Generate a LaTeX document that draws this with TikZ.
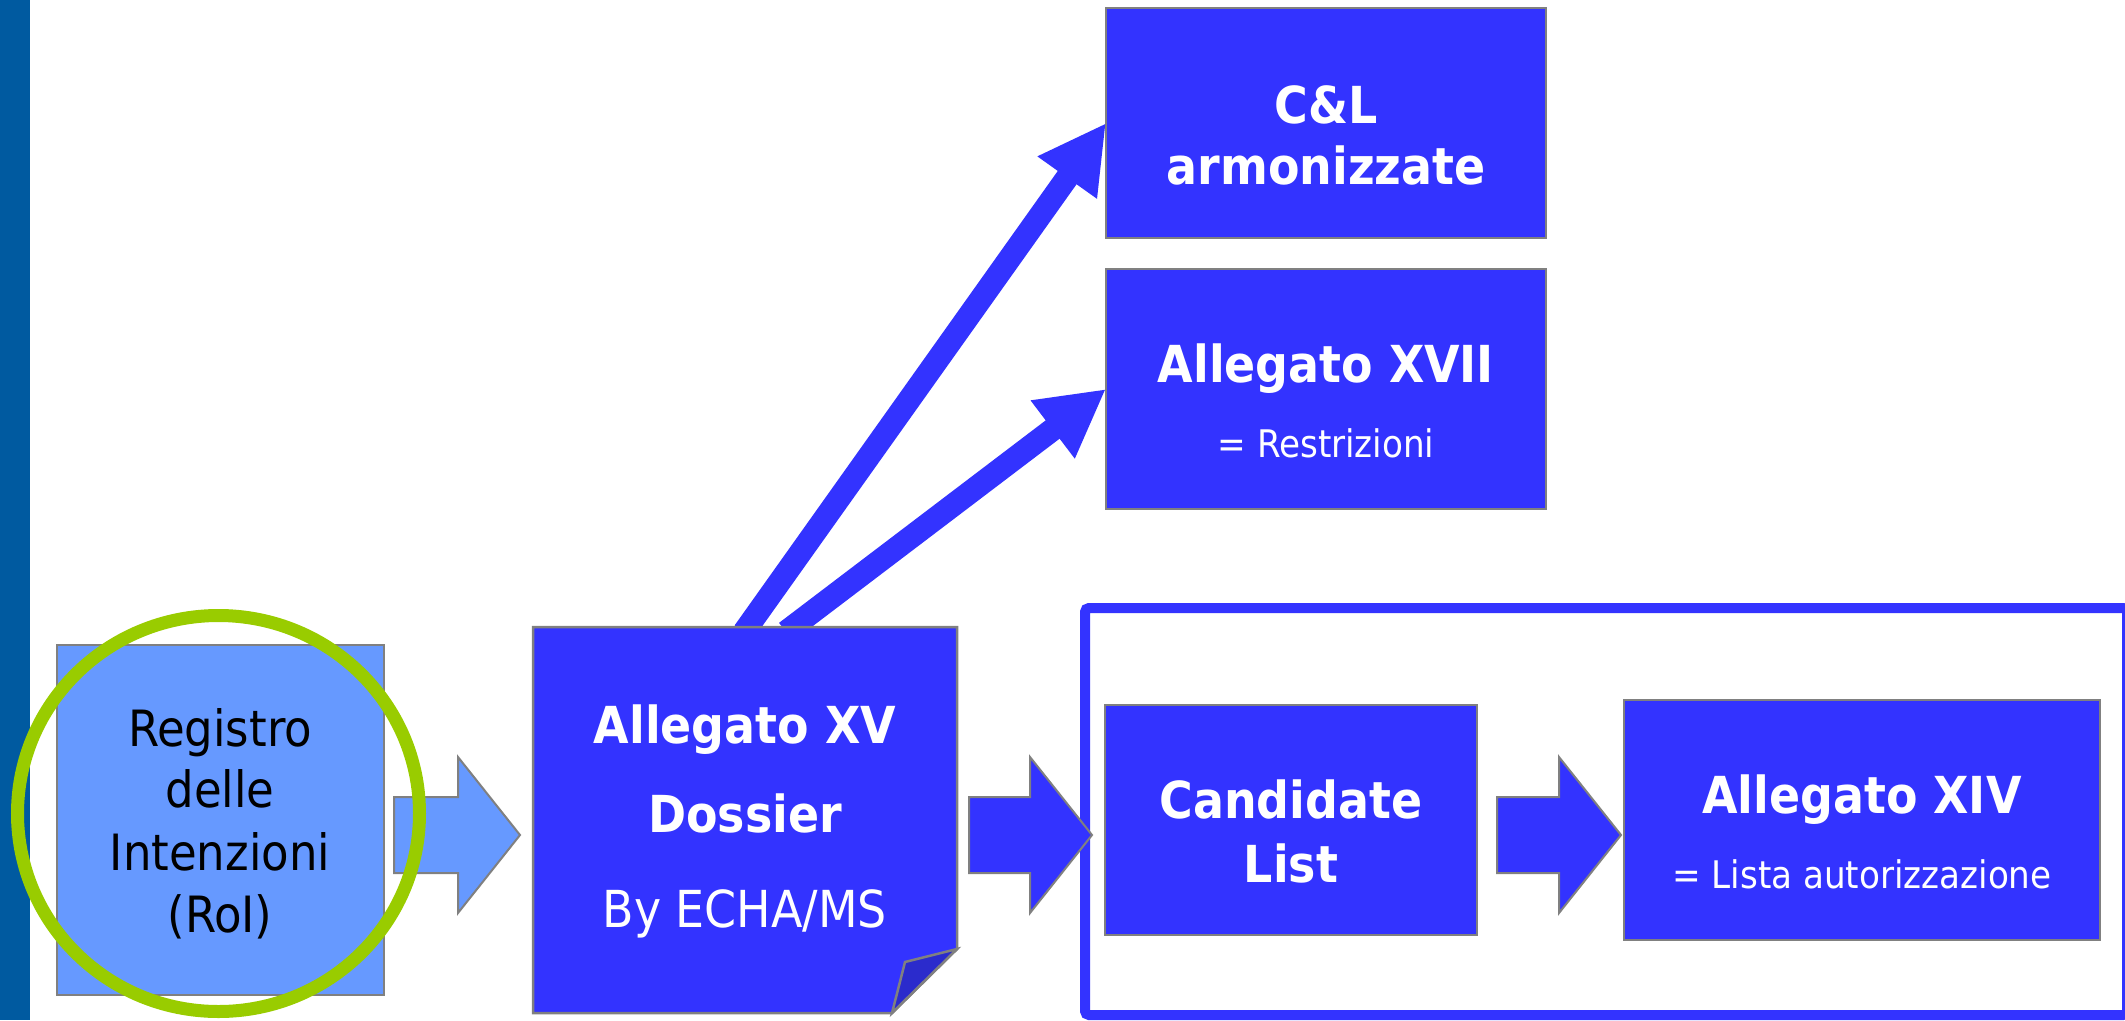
\documentclass[tikz,border=0pt]{standalone}
\usepackage{fontspec}
\setmainfont{DejaVu Sans Condensed}
\usetikzlibrary{arrows.meta,calc}
\definecolor{bbox}{RGB}{51,51,255}
\definecolor{lbox}{RGB}{102,153,255}
\definecolor{foldc}{RGB}{43,43,204}
\definecolor{edgec}{RGB}{128,128,128}
\definecolor{ringc}{RGB}{153,204,0}
\definecolor{sidebar}{RGB}{0,90,160}
\newcommand\blockarr[3]{%
  \path[#1] let \p1=(#2), \p2=(#3) in
    (\x1,\y1+38pt) -- (\x2-62pt,\y1+38pt) -- (\x2-62pt,\y1+78pt) -- (\x2,\y2)
    -- (\x2-62pt,\y1-78pt) -- (\x2-62pt,\y1-38pt) -- (\x1,\y1-38pt) -- cycle;}
\begin{document}
\begin{tikzpicture}[x=1pt,y=-1pt,
  boxnode/.style={draw=edgec,line width=2.5pt,fill=bbox,inner sep=0pt,outer sep=0pt},
  bt/.style={anchor=base,text=white,inner sep=0pt,font=\fontsize{51}{60}\selectfont\bfseries},
  rt/.style={anchor=base,text=white,inner sep=0pt,font=\fontsize{38}{46}\selectfont},
  kt/.style={anchor=base,text=black,inner sep=0pt,font=\fontsize{50}{60}\selectfont},
  diag/.style={draw=bbox,line width=23pt,-{Triangle[length=67pt,width=68pt]}},
  blkblue/.style={fill=bbox,draw=edgec,line width=2pt,line join=miter},
  blklight/.style={fill=lbox,draw=edgec,line width=2pt,line join=miter}]
\useasboundingbox (0,0) rectangle (2125,1020);
\clip (0,0) rectangle (2125,1020);
\fill[sidebar] (0,0) rectangle (30,1020);
% boxes
\node[boxnode,minimum width=440pt,minimum height=230pt] (cl) at (1326,123) {};
\node[boxnode,minimum width=440pt,minimum height=240pt] (xvii) at (1326,389) {};
\node[boxnode,minimum width=372pt,minimum height=230pt] (cand) at (1291,820) {};
\node[boxnode,minimum width=476pt,minimum height=240pt] (xiv) at (1862,820) {};
\node[boxnode,fill=lbox,minimum width=327pt,minimum height=350pt] (roi) at (220.5,820) {};
% texts
\node[bt] (t1) at (1326,123) {C\&L};
\node[bt] (t2) at (1326,184) {armonizzate};
\node[bt] (t3) at (1326,382) {Allegato XVII};
\node[rt] (t4) at (1326,457) {= Restrizioni};
\node[bt] (t5) at (1291,818) {Candidate};
\node[bt] (t6) at (1291,882) {List};
\node[bt] (t7) at (1862,813) {Allegato XIV};
\node[rt] (t8) at (1862,888) {= Lista autorizzazione};
\node[kt] (t9) at (220,746) {Registro};
\node[kt] (t10) at (220,807) {delle};
\node[kt] (t11) at (220,870) {Intenzioni};
\node[kt] (t12) at (220,932) {(RoI)};
% diagonal arrows
\coordinate (s1) at (744,632);
\coordinate (s2) at (786,632);
\draw[diag] (s1) -- (cl.west);
\draw[diag] (s2) -- (xvii.west);
% Allegato XV box with folded corner
\node[inner sep=0pt,outer sep=0pt,minimum width=424pt,minimum height=386pt] (xv) at (745,820) {};
\draw[fill=bbox,draw=edgec,line width=2.5pt,line join=miter]
  (533,627) -- (957,627) -- (957,949) -- (892,1013) -- (533,1013) -- cycle;
\draw[fill=foldc,draw=edgec,line width=2.5pt,line join=miter]
  (957,949) -- (905,962) -- (892,1013) -- cycle;
\node[bt] (t13) at (745,743) {Allegato XV};
\node[bt] (t14) at (745,832) {Dossier};
\node[rt,font=\fontsize{51}{60}\selectfont] (t15) at (745,927) {By ECHA/MS};
% frame
\node[draw=bbox,line width=10pt,rounded corners=4pt,inner sep=0pt,outer sep=0pt,
      minimum width=1042pt,minimum height=407pt] (frame) at (1606,811.5) {};
% block arrows
\coordinate (a1s) at (394,835); \coordinate (a1e) at (520,835);
\coordinate (a2s) at (969,835); \coordinate (a2e) at (1092,835);
\coordinate (a3s) at (1497,835); \coordinate (a3e) at (1621,835);
\blockarr{blklight}{a1s}{a1e}
\blockarr{blkblue}{a2s}{a2e}
\blockarr{blkblue}{a3s}{a3e}
% green ring
\draw[ringc,line width=13pt] (218.5,813.5) ellipse [x radius=201pt,y radius=198pt];
\end{tikzpicture}
\end{document}
